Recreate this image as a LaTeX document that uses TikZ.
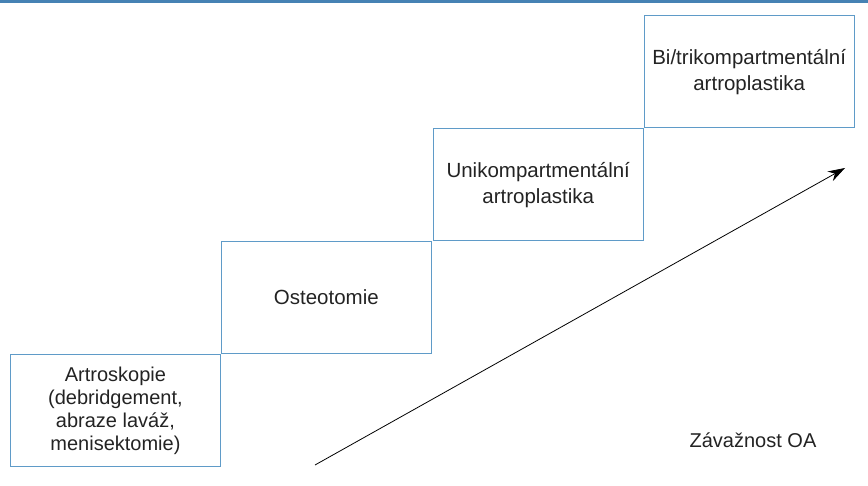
\documentclass[tikz,border=0pt]{standalone}
\usepackage{fontspec}
\setmainfont{Liberation Sans}
\usepackage{tikz}
\usetikzlibrary{positioning,arrows.meta}
\definecolor{bandblue}{RGB}{70,130,180}
\definecolor{boxblue}{RGB}{95,155,200}
\definecolor{txtgray}{RGB}{35,35,35}

\begin{document}
\begin{tikzpicture}[x=1pt,y=-1pt,>={Stealth[length=17pt,width=11pt]},
      step box/.style={rectangle,draw=boxblue,line width=0.9pt,minimum width=210pt,
        minimum height=112pt,inner sep=0pt,align=center,text=txtgray,
        font=\fontsize{20.5}{26}\selectfont},
      tight/.style={font=\fontsize{20}{23}\selectfont}]
      \useasboundingbox (0,0) rectangle (868,486);
      \fill[bandblue] (0,0) rectangle (868,3);

      \node[step box,tight,anchor=south west] (arth) at (10,467)
        {Artroskopie\\(debridgement,\\abraze laváž,\\menisektomie)};
      \node[step box] (osteo) [above right=0pt and 0pt of arth] {Osteotomie};
      \node[step box] (uni) [above right=0pt and 1pt of osteo]
        {Unikompartmentální\\artroplastika};
      \node[step box] (bitri) [above right=0pt and 0pt of uni]
        {Bi/trikompartmentální\\artroplastika};

      \coordinate (low) at (315,465);
      \coordinate (high) at (845,168);
      \node[text=txtgray,font=\fontsize{20}{26}\selectfont] (sev) at (753,440) {Závažnost OA};

      \draw[->,line width=0.8pt] (low) -- (high);
\end{tikzpicture}
\end{document}
